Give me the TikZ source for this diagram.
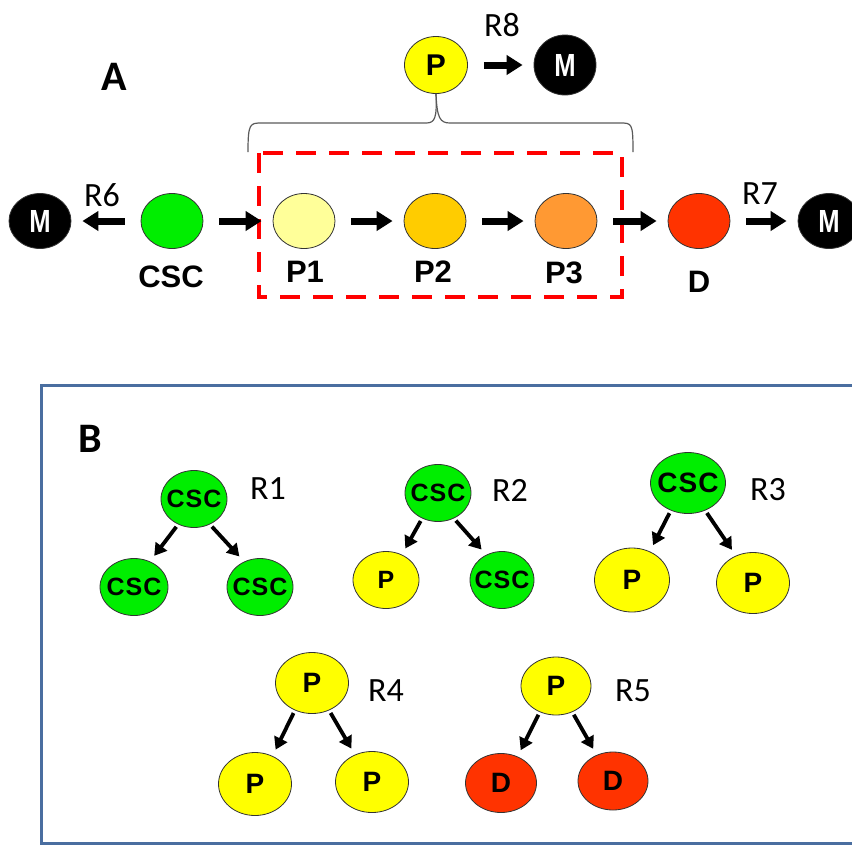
\documentclass[tikz,border=0pt]{standalone}
\usepackage{fontspec}
\setmainfont{Liberation Sans}
\newfontfamily\calfont{Carlito}
\newfontfamily\narrowfont[FakeStretch=0.8]{Liberation Sans}
\newfontfamily\spacedfont[LetterSpace=4]{Liberation Sans}
\usetikzlibrary{shapes.geometric,arrows.meta}

\definecolor{cscgreen}{RGB}{0,238,0}
\definecolor{pyellow}{RGB}{255,255,0}
\definecolor{ponecol}{RGB}{255,255,153}
\definecolor{ptwocol}{RGB}{255,204,0}
\definecolor{pthreecol}{RGB}{255,153,51}
\definecolor{dred}{RGB}{255,51,0}
\definecolor{boxblue}{RGB}{74,110,160}
\definecolor{bracegray}{RGB}{90,90,90}

\newcommand{\nowidth}[1]{\makebox[0pt]{\spacedfont\bfseries #1}}

\tikzstyle{cell} = [ellipse,
    draw=black!80,
    line width=0.8pt,
    inner sep=0pt,
    minimum width=62pt,
    minimum height=55pt]
\tikzstyle{mcell} = [cell,
    fill=black,
    text=white,
    font=\narrowfont\bfseries\fontsize{32}{32}\selectfont]
\tikzstyle{bcell} = [cell,
    minimum width=66pt,
    minimum height=57pt,
    font=\bfseries\fontsize{25}{25}\selectfont]
\tikzstyle{bigcell} = [cell,
    minimum width=73pt,
    minimum height=61pt,
    font=\bfseries\fontsize{28}{28}\selectfont]
\tikzstyle{lbl} = [font=\bfseries\fontsize{31}{31}\selectfont]
\tikzstyle{rate} = [font=\calfont\fontsize{34}{34}\selectfont]
\tikzstyle{panel} = [font=\calfont\bfseries\fontsize{42}{42}\selectfont]
\tikzstyle{bigarrow} = [line width=7pt,
    -{Triangle[length=16pt,width=19pt]},
    shorten <=16pt,
    shorten >=11pt]
\tikzstyle{smallarrow} = [line width=3.8pt,
    -{Triangle[length=12pt,width=14pt]},
    shorten <=3pt,
    shorten >=7pt]

\begin{document}
\begin{tikzpicture}[x=1pt,y=-1pt]
    \useasboundingbox (0,0) rectangle (852,847);

    \node (lettera) [panel] at (114,77) {A};
    \node (mleft) [mcell] at (40,221) {M};
    \node (csc) [cell, fill=cscgreen] at (172,221) {};
    \node (pone) [cell, fill=ponecol] at (304,221) {};
    \node (ptwo) [cell, fill=ptwocol] at (435,221) {};
    \node (pthree) [cell, fill=pthreecol] at (566,221) {};
    \node (d) [cell, fill=dred] at (699,221) {};
    \node (mright) [mcell] at (829,221) {M};
    \node (ptop) [cell, fill=pyellow, minimum width=63pt, minimum height=57pt,
        font=\bfseries\fontsize{30}{30}\selectfont] at (436,65) {P};
    \node (mtop) [mcell, minimum height=60pt] at (565,65) {M};

    \node (lcsc) [lbl] at (171,277) {CSC};
    \node (lpone) [lbl] at (305,272) {P1};
    \node (lptwo) [lbl] at (433,272) {P2};
    \node (lpthree) [lbl] at (564,273) {P3};
    \node (ld) [lbl] at (699,282) {D};

    \node (rsix) [rate] at (102,195) {R6};
    \node (rseven) [rate] at (760,194) {R7};
    \node (reight) [rate] at (502,25) {R8};

    \draw [red, line width=4pt, dash pattern=on 20pt off 13pt] (259,153) rectangle (622,297);
    \draw [bracegray, line width=1.2pt] (248,152) .. controls (248,123) and (250,123) .. (262,123)
        -- (426,123) .. controls (435,123) and (437,118) .. (ptop.south);
    \draw [bracegray, line width=1.2pt] (ptop.south) .. controls (437,118) and (440,123) .. (450,123)
        -- (620,123) .. controls (632,123) and (633,123) .. (633,152);

    \draw [bigarrow] (csc) -- (mleft);
    \draw [bigarrow] (csc) -- (pone);
    \draw [bigarrow] (pone) -- (ptwo);
    \draw [bigarrow] (ptwo) -- (pthree);
    \draw [bigarrow] (pthree) -- (d);
    \draw [bigarrow] (d) -- (mright);
    \draw [bigarrow] (ptop) -- (mtop);

    \draw [boxblue, line width=3pt] (852,385) -- (41,385) -- (41,843) -- (852,843);
    \node (letterb) [panel] at (90,439) {B};

    \node (rone) [bcell, fill=cscgreen] at (194,499) {\nowidth{CSC}};
    \node (ronel) [bcell, fill=cscgreen, minimum width=68pt] at (134,587) {\nowidth{CSC}};
    \node (roner) [bcell, fill=cscgreen] at (260,587) {\nowidth{CSC}};
    \node (lrone) [rate] at (268,489) {R1};
    \draw [smallarrow] (rone.-122) -- (ronel.58);
    \draw [smallarrow] (rone.-58) -- (roner.122);

    \node (rtwo) [bcell, fill=cscgreen] at (438,493) {\nowidth{CSC}};
    \node (rtwol) [bcell, fill=pyellow, font=\bfseries\fontsize{25}{25}\selectfont] at (386,580) {P};
    \node (rtwor) [bcell, fill=cscgreen, minimum width=64pt] at (502,580) {\nowidth{CSC}};
    \node (lrtwo) [rate] at (510,490) {R2};
    \draw [smallarrow] (rtwo.-122) -- (rtwol.58);
    \draw [smallarrow] (rtwo.-58) -- (rtwor.122);

    \node (rthree) [bigcell, fill=cscgreen, minimum width=75pt] at (688,483) {\nowidth{CSC}};
    \node (rthreel) [bigcell, fill=pyellow, minimum width=75pt, minimum height=64pt] at (632,580) {P};
    \node (rthreer) [bigcell, fill=pyellow] at (753,583) {P};
    \node (lrthree) [rate] at (768,490) {R3};
    \draw [smallarrow] (rthree.-122) -- (rthreel.58);
    \draw [smallarrow] (rthree.-58) -- (rthreer.122);

    \node (rfour) [bigcell, fill=pyellow] at (312,683) {P};
    \node (rfourl) [bigcell, fill=pyellow, minimum height=63pt] at (255,784) {P};
    \node (rfourr) [bigcell, fill=pyellow] at (372,782) {P};
    \node (lrfour) [rate] at (386,691) {R4};
    \draw [smallarrow] (rfour.-122) -- (rfourl.58);
    \draw [smallarrow] (rfour.-58) -- (rfourr.122);

    \node (rfive) [bigcell, fill=pyellow, minimum width=70pt, minimum height=58pt] at (556,686) {P};
    \node (rfivel) [bigcell, fill=dred, minimum width=71pt, minimum height=59pt] at (501,783) {D};
    \node (rfiver) [bigcell, fill=dred, minimum width=70pt, minimum height=58pt] at (613,781) {D};
    \node (lrfive) [rate] at (633,691) {R5};
    \draw [smallarrow] (rfive.-122) -- (rfivel.58);
    \draw [smallarrow] (rfive.-58) -- (rfiver.122);
\end{tikzpicture}
\end{document}
